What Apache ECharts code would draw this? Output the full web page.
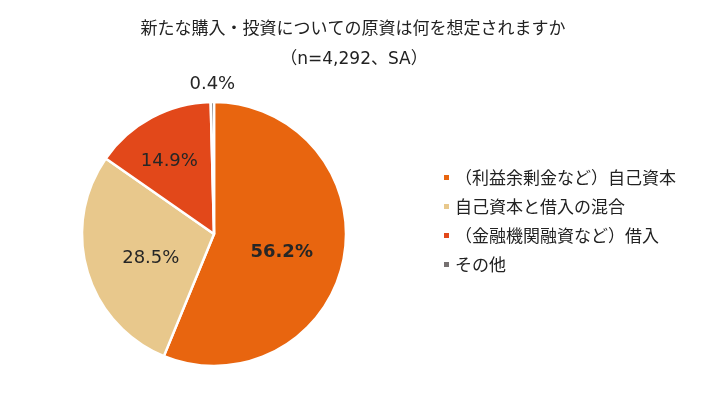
<!DOCTYPE html>
<html><head><meta charset="utf-8">
<script src="https://cdn.jsdelivr.net/npm/echarts@6/dist/echarts.min.js"></script>
<style>html,body{margin:0;padding:0;background:#fff}#c{width:710px;height:398px}</style>
</head><body><div id="c"></div>
<script>
const titleText = '新たな購入・投資についての原資は何を想定されますか';
const subtitleText = '（n=4,292、SA）';
const categories = ['（利益余剰金など）自己資本', '自己資本と借入の混合', '（金融機関融資など）借入', 'その他'];
const values = [56.2, 28.5, 14.9, 0.4];
const colors = ['#E8650F', '#E8C88C', '#E2481A', '#767171'];

const chart = echarts.init(document.getElementById('c'));
const data = categories.map((name, i) => {
  const item = { name: name, value: values[i], itemStyle: { color: colors[i] } };
  if (i === 0) item.label = { fontWeight: 'bold', offset: [0, 5] };
  if (i === 1) item.label = { offset: [3, 5] };
  if (i === 2) item.label = { offset: [-12, -12] };
  if (i === 3) item.label = { position: 'outside', offset: [28, -8] };
  return item;
});
chart.setOption({
  animation: false,
  title: [
    { text: titleText, left: 348, top: 14, textAlign: 'center',
      textStyle: { fontFamily: 'Noto Sans CJK JP', fontSize: 17, fontWeight: 'normal', color: '#222' } },
    { text: subtitleText, left: 349, top: 46, textAlign: 'center',
      textStyle: { fontFamily: '"DejaVu Sans", "Noto Sans CJK JP"', fontSize: 17, fontWeight: 'normal', color: '#222' } }
  ],
  legend: {
    orient: 'vertical', left: 437, top: 164,
    icon: 'rect', itemWidth: 7, itemHeight: 7, itemGap: 12,
    data: categories,
    textStyle: { fontFamily: 'Noto Sans CJK JP', fontSize: 17, color: '#222', lineHeight: 17 }
  },
  series: [{
    type: 'pie',
    center: [214, 234], radius: [0, 132],
    startAngle: 90, clockwise: true,
    avoidLabelOverlap: false,
    itemStyle: { borderColor: '#fff', borderWidth: 2.5 },
    label: { position: 'inside', formatter: p => p.value.toFixed(1) + '%',
      fontFamily: '"DejaVu Sans", sans-serif', fontSize: 18, color: '#262626' },
    labelLine: { show: false, length: 10, length2: 0 },
    data: data
  }]
});
</script></body></html>
